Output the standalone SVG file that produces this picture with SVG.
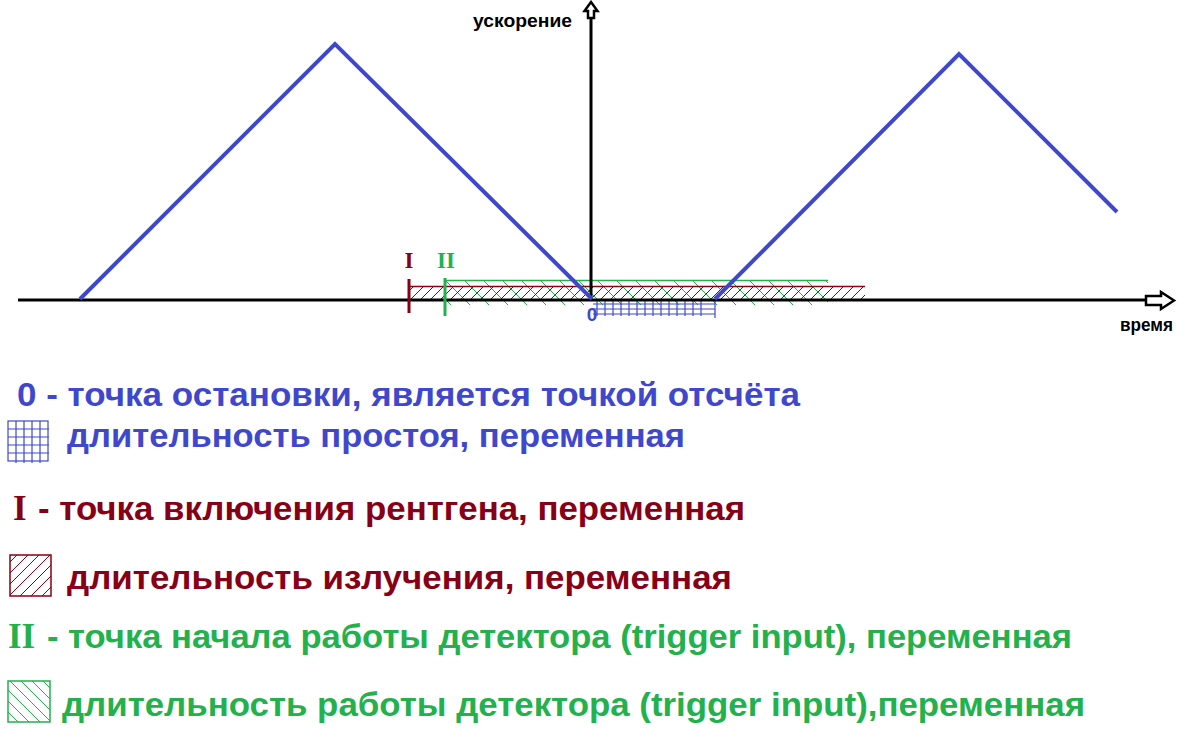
<svg xmlns="http://www.w3.org/2000/svg" width="1186" height="743" viewBox="0 0 1186 743">
<style>
.sans{font-family:"Liberation Sans",Arial,sans-serif;font-weight:bold}
.serif{font-family:"Liberation Serif","Times New Roman",serif;font-weight:bold}
.blue{fill:#3F48CC}
.red{fill:#880015}
.green{fill:#22B14C}
.axis{stroke:#000;stroke-width:3;fill:none}
.curve{stroke:#3F48CC;stroke-width:4;fill:none;stroke-linejoin:miter}
</style>
<defs>
<pattern id="redHatch" patternUnits="userSpaceOnUse" width="10" height="10">
<path d="M0,10 L10,0 M-1,1 L1,-1 M9,11 L11,9" stroke="#880015" stroke-width="1"/>
</pattern>
<pattern id="greenHatch" patternUnits="userSpaceOnUse" x="445" y="280" width="19" height="19">
<path d="M0,0 L19,19 M-1,18 L1,20 M18,-1 L20,1" stroke="#22B14C" stroke-width="1"/>
</pattern>
<pattern id="redSw" patternUnits="userSpaceOnUse" width="11" height="11">
<path d="M0,11 L11,0 M-1,1 L1,-1 M10,12 L12,10" stroke="#880015" stroke-width="1"/>
</pattern>
<pattern id="greenSw" patternUnits="userSpaceOnUse" width="11" height="11">
<path d="M0,0 L11,11 M-1,10 L1,12 M10,-1 L12,1" stroke="#22B14C" stroke-width="1"/>
</pattern>
</defs>
<rect width="1186" height="743" fill="#fff"/>

<g id="hatching">
<rect x="445" y="281" width="383" height="24" fill="url(#greenHatch)"/>
<line x1="445" y1="280.5" x2="828" y2="280.5" stroke="#22B14C" stroke-width="1.5"/>
<rect x="410" y="286" width="455" height="14" fill="url(#redHatch)"/>
<line x1="410" y1="286.5" x2="865" y2="286.5" stroke="#880015" stroke-width="1.5"/>
<g id="idle-grid" stroke="#3F48CC" stroke-width="1.2">
<line x1="593" y1="304" x2="715" y2="304"/>
<line x1="593" y1="309" x2="715" y2="309"/>
<line x1="593" y1="314" x2="715" y2="314"/>
<line x1="597" y1="300" x2="597" y2="316"/>
<line x1="605" y1="300" x2="605" y2="316"/>
<line x1="613" y1="300" x2="613" y2="316"/>
<line x1="621" y1="300" x2="621" y2="316"/>
<line x1="629" y1="300" x2="629" y2="316"/>
<line x1="637" y1="300" x2="637" y2="316"/>
<line x1="645" y1="300" x2="645" y2="316"/>
<line x1="653" y1="300" x2="653" y2="316"/>
<line x1="661" y1="300" x2="661" y2="316"/>
<line x1="669" y1="300" x2="669" y2="316"/>
<line x1="677" y1="300" x2="677" y2="316"/>
<line x1="685" y1="300" x2="685" y2="316"/>
<line x1="693" y1="300" x2="693" y2="316"/>
<line x1="701" y1="300" x2="701" y2="316"/>
<line x1="715" y1="300" x2="715" y2="318"/>
</g>
</g>

<g id="axes">
<line class="axis" x1="18" y1="300" x2="1146" y2="300"/>
<polygon points="1146,296 1161,296 1161,292 1174,300.5 1161,309 1161,305 1146,305" fill="#fff" stroke="#000" stroke-width="2.5"/>
<line class="axis" x1="591" y1="300" x2="591" y2="17"/>
<polygon points="591,2 597.5,11 594,11 594,18 588,18 588,11 584.5,11" fill="#fff" stroke="#000" stroke-width="2.5"/>
<text class="sans" x="473" y="27" font-size="19" textLength="99" lengthAdjust="spacingAndGlyphs">ускорение</text>
<text class="sans" x="1120" y="331" font-size="17.5" textLength="53" lengthAdjust="spacingAndGlyphs">время</text>
</g>

<g id="curves">
<polyline class="curve" points="80,299 335,44 592,299"/>
<polyline class="curve" points="715,299 959,54 1117,212"/>
</g>

<g id="markers">
<line x1="409" y1="279" x2="409" y2="313" stroke="#880015" stroke-width="3"/>
<line x1="445" y1="278" x2="445" y2="316" stroke="#22B14C" stroke-width="3"/>
<text class="serif red" x="409" y="268" font-size="23" text-anchor="middle">I</text>
<text class="serif green" x="446" y="268" font-size="23" text-anchor="middle">II</text>
<text class="sans blue" x="592" y="321" font-size="19" text-anchor="middle">0</text>
</g>

<g id="legend">
<text class="sans blue" x="17" y="406" font-size="33" textLength="783" lengthAdjust="spacingAndGlyphs">0 - точка остановки, является точкой отсчёта</text>
<g id="swatch-grid" stroke="#3F48CC" stroke-width="1.2" fill="none">
<rect x="8" y="421" width="40" height="40"/>
<path d="M16,421 V463 M24,421 V463 M32,421 V463 M40,421 V463 M8,429 H49 M8,437 H49 M8,445 H49 M8,453 H49"/>
</g>
<text class="sans blue" x="67" y="447" font-size="33" textLength="618" lengthAdjust="spacingAndGlyphs">длительность простоя, переменная</text>

<text class="serif red" x="13" y="520" font-size="35">I</text>
<text class="sans red" x="38" y="520" font-size="33" textLength="707" lengthAdjust="spacingAndGlyphs">- точка включения рентгена, переменная</text>
<rect x="10" y="555" width="41" height="41" fill="url(#redSw)" stroke="#880015" stroke-width="1.5"/>
<text class="sans red" x="67" y="589" font-size="33" textLength="665" lengthAdjust="spacingAndGlyphs">длительность излучения, переменная</text>

<text class="serif green" x="8" y="648" font-size="35">II</text>
<text class="sans green" x="47" y="648" font-size="33" textLength="1025" lengthAdjust="spacingAndGlyphs">- точка начала работы детектора (trigger input), переменная</text>
<rect x="8" y="681" width="42" height="41" fill="url(#greenSw)" stroke="#22B14C" stroke-width="1.5"/>
<text class="sans green" x="62" y="716" font-size="33" textLength="1023" lengthAdjust="spacingAndGlyphs">длительность работы детектора (trigger input),переменная</text>
</g>
</svg>
